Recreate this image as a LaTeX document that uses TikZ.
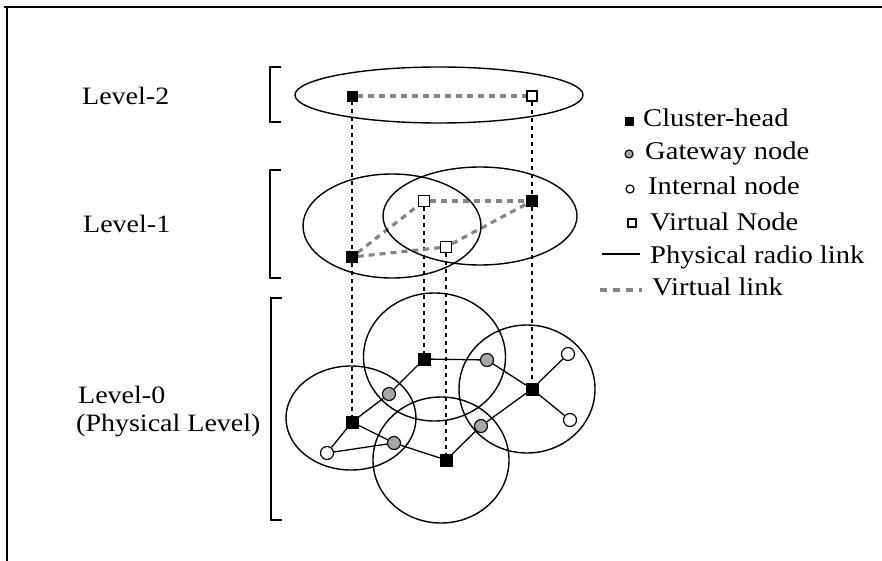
\documentclass[tikz,border=0pt]{standalone}
\usepackage{fontspec}
\setmainfont{Liberation Serif}[FakeStretch=1.12]
\usetikzlibrary{backgrounds}
\begin{document}
\begin{tikzpicture}[x=1pt,y=-1pt,
  lbl/.style={anchor=base west,inner sep=0pt,font=\fontsize{25}{29}\selectfont},
  leg/.style={anchor=base west,inner sep=0pt,font=\fontsize{25.5}{29}\selectfont},
  chead/.style={draw=black,fill=black,rectangle,minimum size=#1,inner sep=0pt},
  chead/.default=11pt,
  vnode/.style={draw=black,fill=white,rectangle,line width=1.2pt,minimum size=#1,inner sep=0pt},
  vnode/.default=10pt,
  gway/.style={draw=black,fill=black!35,circle,line width=1.1pt,minimum size=#1,inner sep=0pt},
  gway/.default=13pt,
  inode/.style={draw=black,fill=white,circle,line width=1.2pt,minimum size=#1,inner sep=0pt},
  inode/.default=13pt,
  cluster/.style={draw=black,line width=1.4pt},
  plink/.style={draw=black,line width=1.3pt},
  vlink/.style={draw=black!48,line width=3.2pt,dash pattern=on 6pt off 5pt},
  proj/.style={draw=black,line width=1.2pt,dash pattern=on 4pt off 4pt},
  brk/.style={draw=black,line width=1.6pt}]
\useasboundingbox (0,0) rectangle (882,561);

% frame
\draw[line width=2.5pt] (4,7) -- (882,7);
\draw[line width=2.5pt] (7,7) -- (7,561);

% level labels and brackets
\node[lbl] (t2) at (82,105) {Level-2};
\node[lbl] (t1) at (83,233) {Level-1};
\node[lbl] (t0) at (78,403) {Level-0};
\node[lbl] (t0b) at (76,431) {(Physical Level)};
\draw[brk] (281,67) -- (270,67) -- (270,122) -- (281,122);
\draw[brk] (281,170) -- (270,170) -- (270,278) -- (281,278);
\draw[brk] (282,298) -- (271,298) -- (271,520) -- (282,520);

% cluster ranges
\draw[cluster] (439,95) ellipse [x radius=144, y radius=28];
\draw[cluster] (392,226) ellipse [x radius=89, y radius=52];
\draw[cluster] (480,216) ellipse [x radius=97, y radius=49];
\draw[cluster] (434.5,357) ellipse [x radius=71, y radius=64];
\draw[cluster] (527,389) ellipse [x radius=68, y radius=64];
\draw[cluster] (351,418) ellipse [x radius=65, y radius=52];
\draw[cluster] (441,460) ellipse [x radius=68, y radius=63];

% level-2 nodes
\node[chead=10pt] (a2) at (352,96) {};
\node[vnode] (b2) at (532,96) {};

% level-1 nodes
\node[chead] (a1) at (352,257) {};
\node[vnode=11pt] (c1) at (424,201) {};
\node[chead] (b1) at (532,201) {};
\node[vnode=11pt] (d1) at (446,247) {};

% level-0 nodes
\node[chead=12pt] (a0) at (352,422) {};
\node[chead=12pt] (c0) at (424,359) {};
\node[chead=12pt] (b0) at (532,389) {};
\node[chead=12pt] (d0) at (446,460) {};
\node[gway] (g1) at (487,360) {};
\node[gway] (g2) at (389,394) {};
\node[gway] (g3) at (394,443) {};
\node[gway] (g4) at (481,426) {};
\node[inode] (i1) at (568,354) {};
\node[inode] (i2) at (570,420) {};
\node[inode] (i3) at (327,453) {};

\begin{scope}[on background layer]
% projections between levels
\draw[proj] (a2) -- (a1) -- (a0);
\draw[proj] (b2) -- (b1) -- (b0);
\draw[proj] (c1) -- (c0);
\draw[proj] (d1) -- (d0);
% virtual links
\draw[vlink] (a2) -- (b2);
\draw[vlink] (c1) -- (b1);
\draw[vlink] (a1) -- (c1);
\draw[vlink] (a1) -- (d1);
\draw[vlink] (d1) -- (b1);
% physical radio links
\draw[plink] (c0) -- (g1) -- (b0);
\draw[plink] (b0) -- (i1);
\draw[plink] (b0) -- (i2);
\draw[plink] (b0) -- (g4) -- (d0);
\draw[plink] (d0) -- (g3) -- (a0);
\draw[plink] (i3) -- (g3);
\draw[plink] (a0) -- (i3);
\draw[plink] (a0) -- (g2) -- (c0);
\end{scope}

% legend
\node[chead=8pt] (k1) at (629,121) {};
\node[gway=8pt] (k2) at (629,154) {};
\node[inode=8pt] (k3) at (630,189) {};
\node[vnode=8pt] (k4) at (632,223) {};
\coordinate (k5a) at (602,254);
\coordinate (k5b) at (640,254);
\coordinate (k6a) at (600,290);
\coordinate (k6b) at (642,290);
\draw[plink] (k5a) -- (k5b);
\draw[vlink,dash pattern=on 7pt off 6pt] (k6a) -- (k6b);
\node[leg] (l1) at (643,127) {Cluster-head};
\node[leg] (l2) at (645,160) {Gateway node};
\node[leg] (l3) at (648,195) {Internal node};
\node[leg] (l4) at (650,230) {Virtual Node};
\node[leg] (l5) at (650,263) {Physical radio link};
\node[leg] (l6) at (652,295) {Virtual link};
\end{tikzpicture}
\end{document}
